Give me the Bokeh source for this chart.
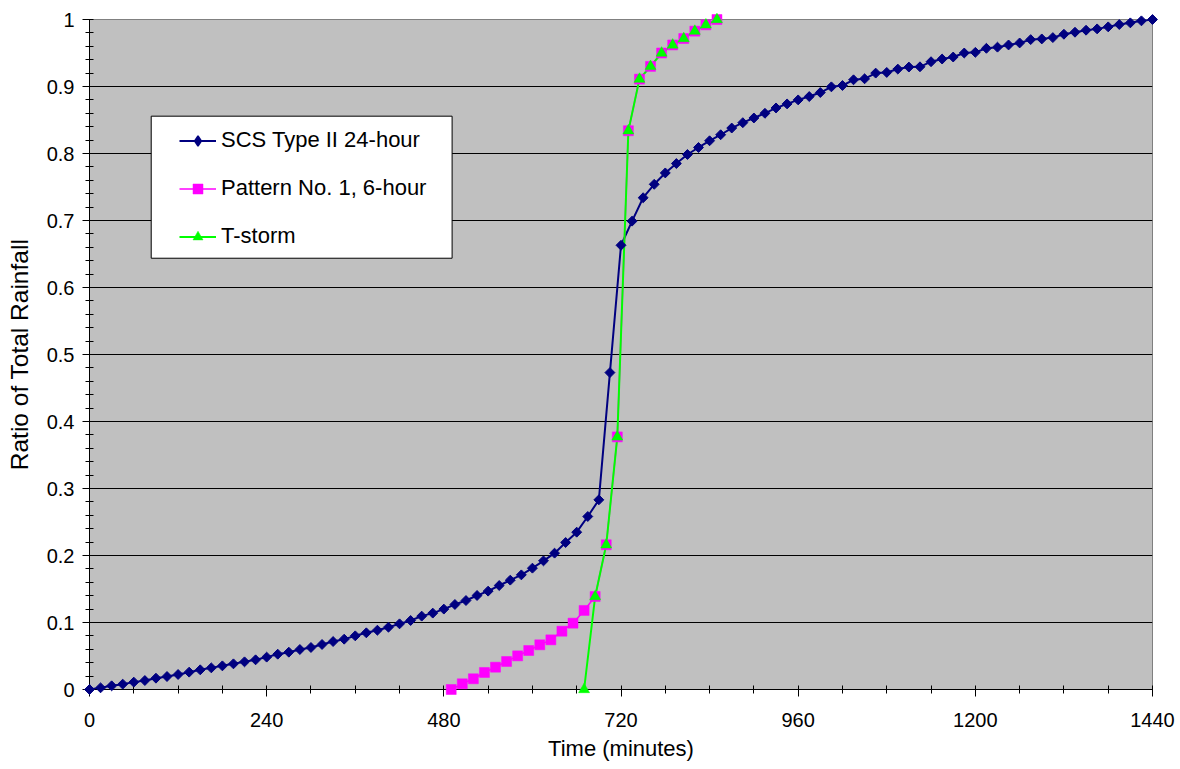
import numpy as np
from bokeh.plotting import figure
from bokeh.models import Range1d, FixedTicker, Legend, LegendItem, BoxAnnotation
from bokeh.embed import file_html
from bokeh.resources import INLINE

# ---------------- data ----------------
scs_time = [0, 15, 30, 45, 60, 75, 90, 105, 120, 135, 150, 165, 180, 195, 210, 225,
            240, 255, 270, 285, 300, 315, 330, 345, 360, 375, 390, 405, 420, 435, 450, 465,
            480, 495, 510, 525, 540, 555, 570, 585, 600, 615, 630, 645, 660, 675, 690, 705,
            720, 735, 750, 765, 780, 795, 810, 825, 840, 855, 870, 885, 900, 915, 930, 945,
            960, 975, 990, 1005, 1020, 1035, 1050, 1065, 1080, 1095, 1110, 1125, 1140, 1155, 1170, 1185,
            1200, 1215, 1230, 1245, 1260, 1275, 1290, 1305, 1320, 1335, 1350, 1365, 1380, 1395, 1410, 1425,
            1440]
scs_ratio = [0.000, 0.0025, 0.0055, 0.008, 0.011, 0.0134, 0.0169, 0.0194, 0.0224, 0.0259, 0.0294, 0.0323, 0.0353, 0.0383, 0.0413, 0.0443,
             0.0483, 0.0527, 0.0557, 0.0597, 0.0627, 0.0672, 0.0716, 0.0751, 0.0801, 0.0846, 0.0885, 0.093, 0.098, 0.103, 0.1095, 0.114,
             0.120, 0.1269, 0.1328, 0.1403, 0.1468, 0.1552, 0.1632, 0.1711, 0.1811, 0.192, 0.2035, 0.2194, 0.2348, 0.2582, 0.2831, 0.473,
             0.663, 0.699, 0.734, 0.754, 0.771, 0.785, 0.7985, 0.809, 0.819, 0.828, 0.838, 0.846, 0.853, 0.860, 0.868, 0.874,
             0.880, 0.885, 0.891, 0.8995, 0.9015, 0.910, 0.9115, 0.920, 0.921, 0.926, 0.929, 0.9294, 0.937, 0.941, 0.944, 0.950,
             0.951, 0.957, 0.9587, 0.962, 0.965, 0.970, 0.971, 0.973, 0.978, 0.981, 0.984, 0.986, 0.989, 0.9925, 0.995, 0.998,
             1.000]

pattern_time = [490, 505, 520, 535, 550, 565, 580, 595, 610, 625, 640, 655, 670,
                685, 700, 715, 730, 745, 760, 775, 790, 805, 820, 835, 850]
pattern_ratio = [0.0, 0.0085, 0.016, 0.0254, 0.0333, 0.0418, 0.0502, 0.0582, 0.0667, 0.0741, 0.087, 0.099, 0.118,
                 0.1388, 0.216, 0.377, 0.834, 0.911, 0.930, 0.950, 0.962, 0.9716, 0.9826, 0.992, 1.0]

tstorm_time = [670, 685, 700, 715, 730, 745, 760, 775, 790, 805, 820, 835, 850]
tstorm_ratio = [0.0, 0.1388, 0.216, 0.377, 0.834, 0.911, 0.930, 0.950, 0.962, 0.9716, 0.9826, 0.992, 1.0]

series_names = ["SCS Type II 24-hour", "Pattern No. 1, 6-hour", "T-storm"]

x_ticks = [0, 240, 480, 720, 960, 1200, 1440]
x_tick_labels = ["0", "240", "480", "720", "960", "1200", "1440"]
y_ticks = [0, 0.1, 0.2, 0.3, 0.4, 0.5, 0.6, 0.7, 0.8, 0.9, 1]
y_tick_labels = ["0", "0.1", "0.2", "0.3", "0.4", "0.5", "0.6", "0.7", "0.8", "0.9", "1"]

x_title = "Time (minutes)"
y_title = "Ratio of Total Rainfall"

# ---------------- figure ----------------
FONT = "Liberation Sans"
p = figure(width=1180, height=769,
           x_range=Range1d(0, 1440), y_range=Range1d(0, 1),
           output_backend="svg", toolbar_location=None,
           min_border_left=89, min_border_right=28, min_border_top=19, min_border_bottom=80,
           background_fill_color="#C0C0C0", border_fill_color="white",
           outline_line_color="#808080", outline_line_width=1)

p.xgrid.visible = False
p.ygrid.ticker = FixedTicker(ticks=y_ticks[1:-1])
p.ygrid.grid_line_color = "black"
p.ygrid.grid_line_width = 1

x_minor = list(range(0, 1441, 60))
y_minor = [round(i * 0.02, 2) for i in range(51)]

p.xaxis.ticker = FixedTicker(ticks=x_ticks, minor_ticks=x_minor)
p.yaxis.ticker = FixedTicker(ticks=y_ticks, minor_ticks=y_minor)
p.xaxis.major_label_overrides = {t: l for t, l in zip(x_ticks, x_tick_labels)}
p.yaxis.major_label_overrides = {t: l for t, l in zip(y_ticks, y_tick_labels)}

for ax in (p.xaxis, p.yaxis):
    ax.axis_line_color = "black"
    ax.axis_line_width = 1
    ax.major_tick_line_color = "black"
    ax.minor_tick_line_color = "black"
    ax.major_tick_in = 0
    ax.major_tick_out = 7
    ax.minor_tick_in = 4
    ax.minor_tick_out = 4
    ax.major_label_text_font = FONT
    ax.major_label_text_font_size = "20px"
    ax.major_label_text_color = "black"
    ax.axis_label_text_font = FONT
    ax.axis_label_text_font_style = "normal"
    ax.axis_label_text_color = "black"

p.xaxis.axis_label = x_title
p.yaxis.axis_label = y_title
p.xaxis.major_label_standoff = 16
p.xaxis.axis_label_standoff = 6
p.xaxis.axis_label_text_font_size = "22px"
p.yaxis.major_label_standoff = 8
p.yaxis.axis_label_standoff = 11
p.yaxis.axis_label_text_font_size = "24.5px"

# ---------------- series ----------------
NAVY = "#000080"
MAGENTA = "#FF00FF"
LIME = "#00FF00"

# legend key for the SCS series: a diamond at the series' first point, hidden under its marker
m1_key = p.scatter(scs_time[:1], scs_ratio[:1], marker="diamond", size=9,
                   fill_color=NAVY, line_color=NAVY, line_width=1.5)

l1 = p.line(scs_time, scs_ratio, line_color=NAVY, line_width=2)
m1 = p.scatter(scs_time, scs_ratio, marker="square", angle=np.pi / 4, size=7,
               fill_color=NAVY, line_color=NAVY, line_width=1, level="overlay")
l2 = p.line(pattern_time, pattern_ratio, line_color=MAGENTA, line_width=1.5)
m2 = p.scatter(pattern_time, pattern_ratio, marker="square", size=10,
               fill_color=MAGENTA, line_color=MAGENTA, line_width=0.5, level="overlay")
l3 = p.line(tstorm_time, tstorm_ratio, line_color=LIME, line_width=2)
m3 = p.scatter(tstorm_time, tstorm_ratio, marker="triangle", size=11,
               fill_color=LIME, line_color=LIME, line_width=0.5, level="overlay")

# ---------------- legend ----------------
box = BoxAnnotation(left=83.6, right=491.2, top=0.8557, bottom=0.6437,
                    fill_color="white", fill_alpha=1.0,
                    line_color="black", line_width=1, line_alpha=1.0)
p.add_layout(box)

legend = Legend(items=[LegendItem(label=series_names[0], renderers=[l1, m1_key]),
                       LegendItem(label=series_names[1], renderers=[l2, m2]),
                       LegendItem(label=series_names[2], renderers=[l3, m3])],
                location=(90, 440), padding=0, margin=0, spacing=22,
                glyph_width=37, glyph_height=25, label_height=25, label_standoff=5,
                label_text_font=FONT, label_text_font_size="22px", label_text_color="black",
                border_line_color=None, background_fill_alpha=0)
p.add_layout(legend, "center")

open("out.html", "w").write(file_html(p, INLINE))
